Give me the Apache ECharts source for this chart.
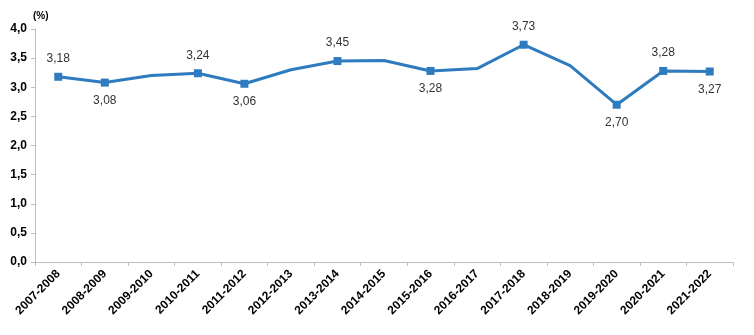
<!DOCTYPE html>
<html><head><meta charset="utf-8">
<script src="https://cdn.jsdelivr.net/npm/echarts@6/dist/echarts.min.js"></script>
<style>html,body{margin:0;padding:0;background:#fff}#c{width:754px;height:335px}</style>
</head><body><div id="c"></div>
<script>
const categories = ['2007-2008','2008-2009','2009-2010','2010-2011','2011-2012','2012-2013','2013-2014','2014-2015','2015-2016','2016-2017','2017-2018','2018-2019','2019-2020','2020-2021','2021-2022'];
const values = [3.18,3.08,3.20,3.24,3.06,3.30,3.45,3.46,3.28,3.32,3.73,3.37,2.70,3.28,3.27];
const labelPos = ['top','bottom',null,'top','bottom',null,'top',null,'bottom',null,'top',null,'bottom','top','bottom'];
const yTicks = [0,0.5,1,1.5,2,2.5,3,3.5,4];

const fmt = v => v.toFixed(2).replace('.', ',');
const data = values.map((v,i) => labelPos[i] ? {
  value: v, symbol: 'rect', symbolSize: 8,
  label: {show: true, position: labelPos[i], distance: 8, formatter: p => fmt(p.value)}
} : {value: v, symbol: 'none', label: {show: false}});

const chart = echarts.init(document.getElementById('c'));
chart.setOption({
  animation: false,
  grid: {left: 35, right: 21, top: 29, bottom: 73},
  xAxis: {
    type: 'category', data: categories, boundaryGap: true,
    axisLine: {lineStyle: {color: '#bfbfbf'}},
    axisTick: {show: true, length: 4, lineStyle: {color: '#bfbfbf'}},
    axisLabel: {rotate: 45, interval: 0, color: '#000', fontWeight: 'bold', fontSize: 12, fontFamily: 'Liberation Sans, Arial', margin: 10}
  },
  yAxis: {
    type: 'value', min: yTicks[0], max: yTicks[yTicks.length-1], interval: 0.5,
    name: '(%)', nameLocation: 'end', nameGap: 8,
    nameTextStyle: {color: '#000', fontWeight: 'bold', fontSize: 10, fontFamily: 'Liberation Sans, Arial', align: 'left', padding: [0,0,0,-2]},
    axisLine: {show: true, lineStyle: {color: '#bfbfbf'}},
    axisTick: {show: true, length: 4, lineStyle: {color: '#bfbfbf'}},
    splitLine: {show: false},
    axisLabel: {color: '#000', fontWeight: 'bold', fontSize: 12, fontFamily: 'Liberation Sans, Arial', margin: 8,
      formatter: v => v.toFixed(1).replace('.', ',')}
  },
  series: [{
    type: 'line', data: data, showSymbol: true,
    lineStyle: {color: '#2e7bbf', width: 3},
    itemStyle: {color: '#2e7bbf'},
    label: {color: '#333', fontSize: 12, fontFamily: 'Liberation Sans, Arial'}
  }]
});
</script></body></html>
